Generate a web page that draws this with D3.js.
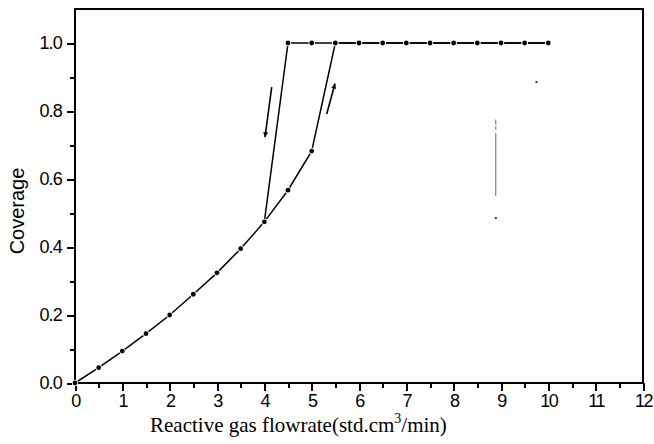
<!DOCTYPE html>
<html>
<head>
<meta charset="utf-8">
<script src="https://cdn.jsdelivr.net/npm/d3@7"></script>
<style>
  body { margin: 0; background: #fff; }
  svg { display: block; }
</style>
</head>
<body>
<svg id="chart"></svg>
<script>
// Chart data
const flowUp = [0, 0.5, 1, 1.5, 2, 2.5, 3, 3.5, 4, 4.5, 5, 5.5, 6, 6.5, 7, 7.5, 8, 8.5, 9, 9.5, 10];
const coverageUp = [0, 0.045, 0.094, 0.145, 0.2, 0.261, 0.324, 0.395, 0.474, 0.567, 0.682, 1, 1, 1, 1, 1, 1, 1, 1, 1, 1];

const flowDown = [10, 9.5, 9, 8.5, 8, 7.5, 7, 6.5, 6, 5.5, 5, 4.5, 4];
const coverageDown = [1, 1, 1, 1, 1, 1, 1, 1, 1, 1, 1, 1, 0.474];

// direction arrows [x1, y1, x2, y2] in data units
const arrows = [
  [4.156, 0.87, 4.014, 0.723],
  [5.318, 0.791, 5.493, 0.881]
];

// stray marks from the scan
const scanLines = [[8.89, 0.735, 0.55], [8.89, 0.775, 0.76], [8.89, 0.755, 0.745]];
const scanDots = [[8.89, 0.485], [9.75, 0.885]];

const xTicks = d3.range(0, 13, 1);
const xMinor = d3.range(0.5, 12, 1);
const yTicks = [0, 0.2, 0.4, 0.6, 0.8, 1.0];
const yMinor = [0.1, 0.3, 0.5, 0.7, 0.9];

const width = 654, height = 444;
const plotLeft = 75, plotRight = 643, plotTop = 9, plotBottom = 383;

const svg = d3.select('#chart')
  .attr('width', width)
  .attr('height', height);

const x = d3.scaleLinear().domain([0, 12]).range([plotLeft, plotRight]);
const y = d3.scaleLinear().domain([0, 1.1]).range([plotBottom, plotTop]);

// frame
svg.append('rect')
  .attr('x', plotLeft).attr('y', plotTop)
  .attr('width', plotRight - plotLeft).attr('height', plotBottom - plotTop)
  .attr('fill', 'none').attr('stroke', '#000').attr('stroke-width', 2);

// minor ticks
svg.append('g')
  .attr('transform', `translate(0,${plotBottom})`)
  .call(d3.axisBottom(x).tickValues(xMinor).tickSize(5).tickFormat(''))
  .call(g => g.select('.domain').remove());
svg.append('g')
  .attr('transform', `translate(${plotLeft},0)`)
  .call(d3.axisLeft(y).tickValues(yMinor).tickSize(5).tickFormat(''))
  .call(g => g.select('.domain').remove());

// major ticks + labels
const xAxis = svg.append('g')
  .attr('transform', `translate(0,${plotBottom})`)
  .call(d3.axisBottom(x).tickValues(xTicks).tickSize(8).tickPadding(3).tickFormat(d3.format('d')));
xAxis.select('.domain').remove();

const yAxis = svg.append('g')
  .attr('transform', `translate(${plotLeft},0)`)
  .call(d3.axisLeft(y).tickValues(yTicks).tickSize(8).tickPadding(5).tickFormat(d3.format('.1f')));
yAxis.select('.domain').remove();

svg.selectAll('.tick line')
  .attr('stroke', '#000')
  .attr('stroke-width', 2)
  .attr('shape-rendering', 'crispEdges');
svg.selectAll('.tick text')
  .attr('fill', '#000')
  .attr('font-family', '"Liberation Sans", Arial, sans-serif')
  .attr('font-size', 18);
xAxis.selectAll('.tick text').attr('letter-spacing', '-1.5px');
yAxis.selectAll('.tick text').attr('letter-spacing', '-0.8px');

// axis titles
const xTitle = svg.append('text')
  .attr('x', 150).attr('y', 432)
  .attr('font-family', '"Liberation Serif", "Times New Roman", serif')
  .attr('font-size', 21)
  .attr('fill', '#000');
xTitle.append('tspan').text('Reactive gas flowrate(std.cm');
xTitle.append('tspan').attr('dy', -9).attr('font-size', 14).text('3');
xTitle.append('tspan').attr('dy', 9).text('/min)');

svg.append('text')
  .attr('transform', 'translate(24,211) rotate(-90)')
  .attr('text-anchor', 'middle')
  .attr('font-family', '"Liberation Sans", Arial, sans-serif')
  .attr('font-size', 20)
  .attr('fill', '#000')
  .text('Coverage');

// series
const line = d3.line().x(d => x(d[0])).y(d => y(d[1]));
const upPts = flowUp.map((f, i) => [f, coverageUp[i]]);
const downPts = flowDown.map((f, i) => [f, coverageDown[i]]);

[upPts, downPts].forEach(pts => {
  svg.append('path')
    .datum(pts)
    .attr('d', line)
    .attr('fill', 'none')
    .attr('stroke', '#000')
    .attr('stroke-width', 1.5);
});

svg.append('g')
  .selectAll('circle')
  .data(upPts.concat(downPts))
  .enter()
  .append('circle')
  .attr('cx', d => x(d[0]))
  .attr('cy', d => y(d[1]))
  .attr('r', 2.4)
  .attr('fill', '#000')
  .attr('stroke', '#fff')
  .attr('stroke-width', 1.5)
  .attr('paint-order', 'stroke');

// arrows
svg.append('defs').append('marker')
  .attr('id', 'head')
  .attr('viewBox', '0 0 10 10')
  .attr('refX', 10).attr('refY', 5)
  .attr('markerWidth', 11).attr('markerHeight', 5)
  .attr('markerUnits', 'userSpaceOnUse')
  .attr('orient', 'auto')
  .append('path')
  .attr('d', 'M0,0L10,5L0,10Z')
  .attr('fill', '#000');

svg.append('g')
  .selectAll('line')
  .data(arrows)
  .enter()
  .append('line')
  .attr('x1', d => x(d[0])).attr('y1', d => y(d[1]))
  .attr('x2', d => x(d[2])).attr('y2', d => y(d[3]))
  .attr('stroke', '#000')
  .attr('stroke-width', 1.6)
  .attr('marker-end', 'url(#head)');

// scan specks
svg.append('g')
  .selectAll('line')
  .data(scanLines)
  .enter()
  .append('line')
  .attr('x1', d => x(d[0])).attr('x2', d => x(d[0]))
  .attr('y1', d => y(d[1])).attr('y2', d => y(d[2]))
  .attr('stroke', '#666')
  .attr('stroke-width', 1);

svg.append('g')
  .selectAll('rect')
  .data(scanDots)
  .enter()
  .append('rect')
  .attr('x', d => x(d[0]) - 1).attr('y', d => y(d[1]) - 1)
  .attr('width', 2).attr('height', 2)
  .attr('fill', '#333');
</script>
</body>
</html>
